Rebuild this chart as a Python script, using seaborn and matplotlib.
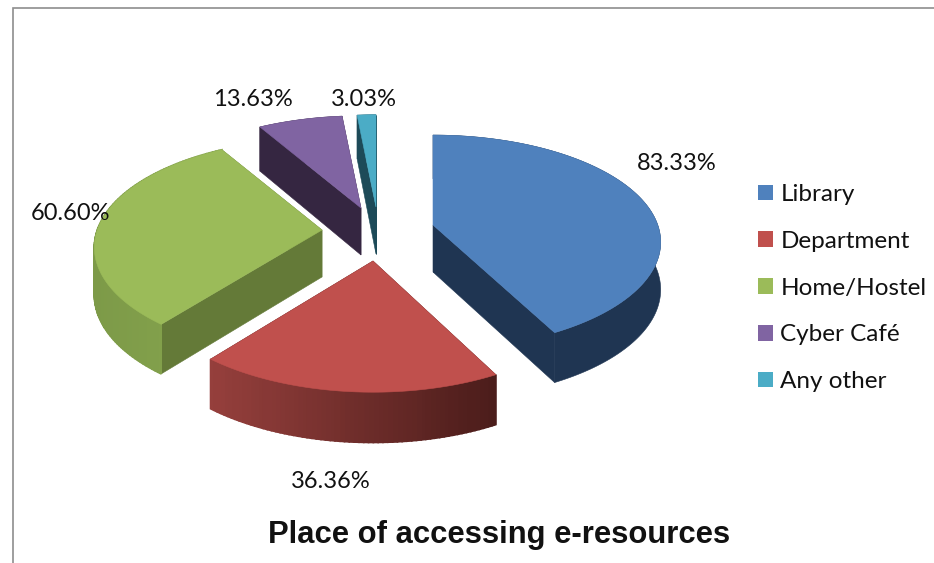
import numpy as np
import matplotlib
matplotlib.use("Agg")
import matplotlib.pyplot as plt
from matplotlib.patches import Polygon, Patch
import seaborn as sns

# Survey results: share of respondents per access location
places = ["Library", "Department", "Home/Hostel", "Cyber Café", "Any other"]
shares = [83.33, 36.36, 60.60, 13.63, 3.03]
share_labels = ["83.33%", "36.36%", "60.60%", "13.63%", "3.03%"]
chart_title = "Place of accessing e-resources"

top_colors = ["#4f81bd", "#c0504d", "#9bbb59", "#8064a2", "#4bacc6"]
wall_left = ["#1f3552", "#953f3c", "#7d9a48", "#352641", "#1d4a58"]
wall_right = ["#1f3552", "#4a1c1a", "#86a54e", "#352641", "#1d4a58"]
cut_colors = ["#1f3552", "#4a1c1a", "#647a38", "#352641", "#1d4a58"]

# Exploded slice apex positions (pixels), per-slice radius trim and label anchors
apexes = [(433, 225), (373, 261), (322, 230), (361, 208), (376, 207)]
radius_x = [0.99, 1.0, 0.99, 1.0, 1.0]
radius_y = [0.975, 1.03, 0.99, 1.0, 1.0]
label_xy = [(677, 163), (331, 482), (70, 213), (253, 100), (364, 100)]
RX, RY, PERSP, DEPTH = 227, 107, 0.16, 47

sns.set_theme(style="white")
plt.rcParams["font.family"] = ["Lato", "DejaVu Sans"]


def project(i, theta):
    """Map a clockwise-from-top angle on the tilted disc to screen pixels."""
    X, Y = np.sin(theta), np.cos(theta)
    w = 1 + PERSP * Y
    return (apexes[i][0] + radius_x[i] * RX * X / w,
            apexes[i][1] - radius_y[i] * RY * Y / w)


def lowered(pt, theta=None):
    """Drop a top-surface point to the bottom of the slab; nearer means deeper."""
    Y = 0 if theta is None else np.cos(theta)
    return pt[0], pt[1] + DEPTH * (1 - 0.07 * Y)


fig = plt.figure(figsize=(9.34, 5.63), dpi=100)
ax = fig.add_axes([0, 0, 1, 1])
ax.set_xlim(0, 934)
ax.set_ylim(563, 0)
ax.axis("off")

# Outer chart frame
ax.plot([12.5, 12.5, 934], [563, 7.5, 7.5], color="#8e8e8e", lw=1.2,
        solid_joinstyle="miter", zorder=1)

edges = np.radians(np.concatenate([[0], np.cumsum(shares)]) / np.sum(shares) * 360)

# Back slices first so the nearer ones paint over them
for i in [4, 3, 2, 0, 1]:
    apex = apexes[i]
    thetas = np.linspace(edges[i], edges[i + 1], max(8, int(np.degrees(edges[i + 1] - edges[i]))))
    rim = [project(i, t) for t in thetas]
    rim_low = [lowered(p, t) for p, t in zip(rim, thetas)]

    # Radial cut faces
    for t, pt in [(thetas[0], rim[0]), (thetas[-1], rim[-1])]:
        ax.add_patch(Polygon([apex, pt, lowered(pt, t), lowered(apex)],
                             closed=True, fc=cut_colors[i], ec=cut_colors[i],
                             lw=0.4, zorder=2))

    # Curved outer wall: a solid base, then bands shaded from left to right
    shades = sns.blend_palette([wall_left[i], wall_right[i]], n_colors=64)
    ax.add_patch(Polygon(rim + rim_low[::-1], closed=True, fc=shades[32],
                         ec=shades[32], lw=0.4, zorder=2))
    if wall_left[i] != wall_right[i]:
        xs = np.array([p[0] for p in rim])
        lo, hi = xs.min(), xs.max()
        for j in range(len(rim) - 1):
            frac = (0.5 * (xs[j] + xs[j + 1]) - lo) / max(hi - lo, 1)
            c = shades[int(frac * 63)]
            ax.add_patch(Polygon([rim[j], rim[j + 1], rim_low[j + 1], rim_low[j]],
                                 closed=True, fc=c, ec=c, lw=1.2, zorder=2))

    # Flat top surface
    ax.add_patch(Polygon([apex] + rim, closed=True, fc=top_colors[i],
                         ec=top_colors[i], lw=0.4, zorder=3))

for xy, text in zip(label_xy, share_labels):
    ax.text(xy[0], xy[1], text, ha="center", va="center", fontsize=17,
            color="#111111", zorder=5)

ax.text(499.5, 535, chart_title, ha="center", va="center", fontsize=22.3,
        fontfamily="Liberation Sans", fontweight="bold", color="#111111", zorder=5)

handles = [Patch(fc=c, ec="none") for c in top_colors]
ax.legend(handles, places, loc="center left", bbox_to_anchor=(758 / 934, 1 - 288 / 563),
          frameon=False, fontsize=17.5, handlelength=0.62, handleheight=0.62,
          handletextpad=0.3, labelspacing=1.06, borderpad=0, borderaxespad=0,
          labelcolor="#111111")

fig.savefig("out.png", dpi=100)
